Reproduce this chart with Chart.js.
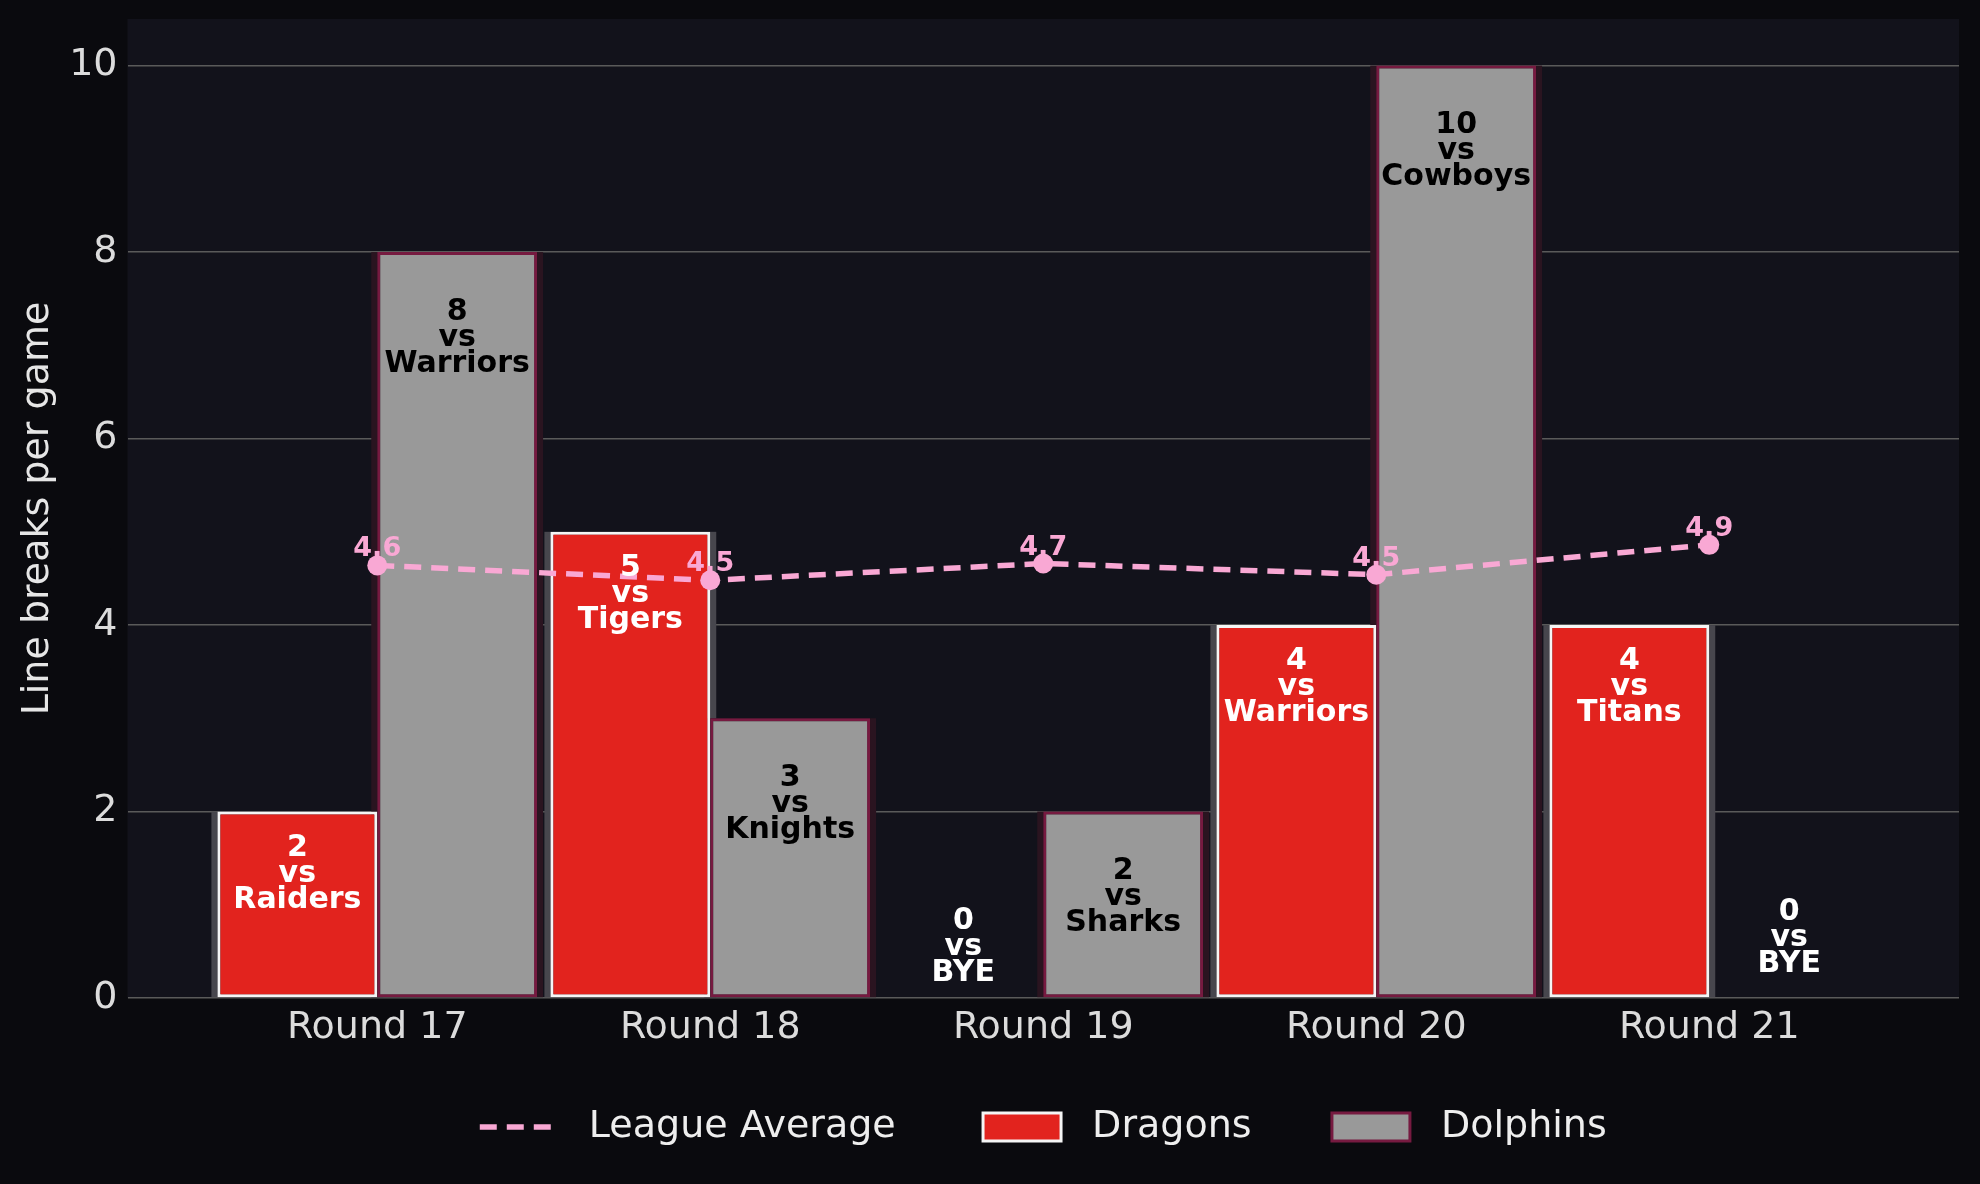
<!DOCTYPE html>
<html>
<head>
<meta charset="utf-8">
<script src="https://cdn.jsdelivr.net/npm/chart.js@4.4.1/dist/chart.umd.min.js"></script>
<style>
  html, body { margin: 0; padding: 0; background: #0a0a0e; }
  #wrap { width: 1980px; height: 1184px; }
</style>
</head>
<body>
<div id="wrap"><canvas id="chart" width="1980" height="1184"></canvas></div>
<script>
// Chart data
const rounds = ['Round 17', 'Round 18', 'Round 19', 'Round 20', 'Round 21'];
const dragonsBreaks = [2, 5, 0, 4, 4];
const dragonsOpponents = ['Raiders', 'Tigers', 'BYE', 'Warriors', 'Titans'];
const dolphinsBreaks = [8, 3, 2, 10, 0];
const dolphinsOpponents = ['Warriors', 'Knights', 'Sharks', 'Cowboys', 'BYE'];
const leagueAverage = [4.64, 4.48, 4.66, 4.54, 4.86];
const yTicks = [0, 2, 4, 6, 8, 10];

const avgColor = '#f9a8d4';
const avgDash = [17, 10];

Chart.defaults.font.family = '"DejaVu Sans", sans-serif';

// Paint the page and the plot area
const backgroundPlugin = {
    id: 'background',
    beforeDraw(chart) {
        const { ctx, chartArea: a } = chart;
        ctx.save();
        ctx.fillStyle = '#0a0a0e';
        ctx.fillRect(0, 0, chart.width, chart.height);
        ctx.fillStyle = '#12121b';
        ctx.fillRect(a.left, a.top, a.right - a.left, a.bottom - a.top);
        ctx.restore();
    }
};

// Soft halo behind each bar (a bit wider than the bar itself)
const glowPlugin = {
    id: 'barGlow',
    beforeDatasetsDraw(chart) {
        const ctx = chart.ctx;
        ctx.save();
        chart.data.datasets.forEach((ds, i) => {
            if (!ds.glowColor) return;
            ctx.fillStyle = ds.glowColor;
            chart.getDatasetMeta(i).data.forEach(bar => {
                const p = bar.getProps(['x', 'y', 'base', 'width'], true);
                if (p.base - p.y < 1) return;
                ctx.fillRect(p.x - p.width / 2 - 6, p.y, p.width + 12, p.base - p.y);
            });
        });
        ctx.restore();
    }
};

// "N vs Team" labels in the bars and values above the average line
const labelPlugin = {
    id: 'matchLabels',
    afterDatasetsDraw(chart) {
        const ctx = chart.ctx;
        const yScale = chart.scales.y;
        ctx.save();
        ctx.textAlign = 'center';
        ctx.textBaseline = 'middle';

        const groups = [
            { index: 1, values: dragonsBreaks, teams: dragonsOpponents, color: '#ffffff', inside: -0.67, zero: 0.54 },
            { index: 2, values: dolphinsBreaks, teams: dolphinsOpponents, color: '#000000', inside: -0.92, zero: 0.64 }
        ];
        ctx.font = 'bold 30px "DejaVu Sans"';
        groups.forEach(g => {
            chart.getDatasetMeta(g.index).data.forEach((bar, i) => {
                const v = g.values[i];
                const cy = yScale.getPixelForValue(v > 0 ? v + g.inside : g.zero);
                ctx.fillStyle = v > 0 ? g.color : '#ffffff';
                ctx.fillText(String(v), bar.x, cy - 26);
                ctx.fillText('vs', bar.x, cy);
                ctx.fillText(g.teams[i], bar.x, cy + 26);
            });
        });

        ctx.font = 'bold 27px "DejaVu Sans"';
        ctx.fillStyle = avgColor;
        chart.getDatasetMeta(0).data.forEach((pt, i) => {
            ctx.fillText(leagueAverage[i].toFixed(1), pt.x, pt.y - 16);
        });
        ctx.restore();
    }
};

new Chart(document.getElementById('chart'), {
    type: 'bar',
    data: {
        datasets: [
            {
                type: 'line',
                label: ' League Average    \u2002',
                data: leagueAverage.map((v, i) => ({ x: i, y: v })),
                borderColor: avgColor,
                backgroundColor: avgColor,
                borderWidth: 5.5,
                borderDash: avgDash,
                pointRadius: 10,
                pointBorderWidth: 0,
                pointBackgroundColor: avgColor,
                order: 0
            },
            {
                label: ' Dragons     ',
                data: dragonsBreaks.map((v, i) => ({ x: i, y: v })),
                backgroundColor: '#e2231e',
                borderColor: '#f5f5f5',
                borderWidth: 3,
                borderSkipped: false,
                glowColor: '#47464d',
                order: 1
            },
            {
                label: ' Dolphins',
                data: dolphinsBreaks.map((v, i) => ({ x: i, y: v })),
                backgroundColor: '#999999',
                borderColor: '#761a40',
                borderWidth: 3,
                borderSkipped: false,
                glowColor: '#2a1420',
                order: 1
            }
        ]
    },
    options: {
        responsive: false,
        animation: false,
        layout: { padding: { top: 19, right: 21, bottom: 28, left: 0 } },
        datasets: { bar: { categoryPercentage: 0.96, barPercentage: 1.0 } },
        scales: {
            x: {
                type: 'linear',
                offset: false,
                min: -0.75,
                max: 4.75,
                afterBuildTicks: s => { s.ticks = rounds.map((r, i) => ({ value: i })); },
                afterFit: s => { s.height = 90; s.paddingLeft = 0; s.paddingRight = 0; },
                ticks: {
                    callback: v => rounds[v],
                    color: '#dcdcdc',
                    font: { size: 38 },
                    padding: -1,
                    autoSkip: false,
                    maxRotation: 0
                },
                grid: { display: false },
                border: { display: false }
            },
            y: {
                min: 0,
                max: 10.5,
                afterBuildTicks: s => { s.ticks = yTicks.map(v => ({ value: v })); },
                afterFit: s => { s.width = 127.5; s.paddingTop = 0; s.paddingBottom = 0; },
                ticks: { color: '#dcdcdc', font: { size: 38 }, padding: 10 },
                grid: { color: '#5a5a5a', lineWidth: 1.5, drawTicks: false },
                border: { display: false },
                title: {
                    display: true,
                    text: 'Line breaks per game',
                    color: '#e6e6e6',
                    font: { size: 38 },
                    padding: { top: 15, bottom: 0 }
                }
            }
        },
        plugins: {
            tooltip: { enabled: false },
            legend: {
                position: 'bottom',
                fullSize: false,
                labels: {
                    color: '#eeeeee',
                    font: { size: 38 },
                    usePointStyle: true,
                    pointStyleWidth: 78,
                    boxHeight: 28,
                    padding: 20,
                    generateLabels(chart) {
                        const items = Chart.defaults.plugins.legend.labels.generateLabels(chart);
                        items.forEach(it => {
                            if (it.datasetIndex === 0) {
                                it.pointStyle = 'line';
                                it.strokeStyle = avgColor;
                                it.lineWidth = 5.5;
                                it.lineDash = avgDash;
                            } else {
                                it.pointStyle = 'rect';
                            }
                        });
                        return items;
                    }
                }
            }
        }
    },
    plugins: [backgroundPlugin, glowPlugin, labelPlugin]
});
</script>
</body>
</html>
